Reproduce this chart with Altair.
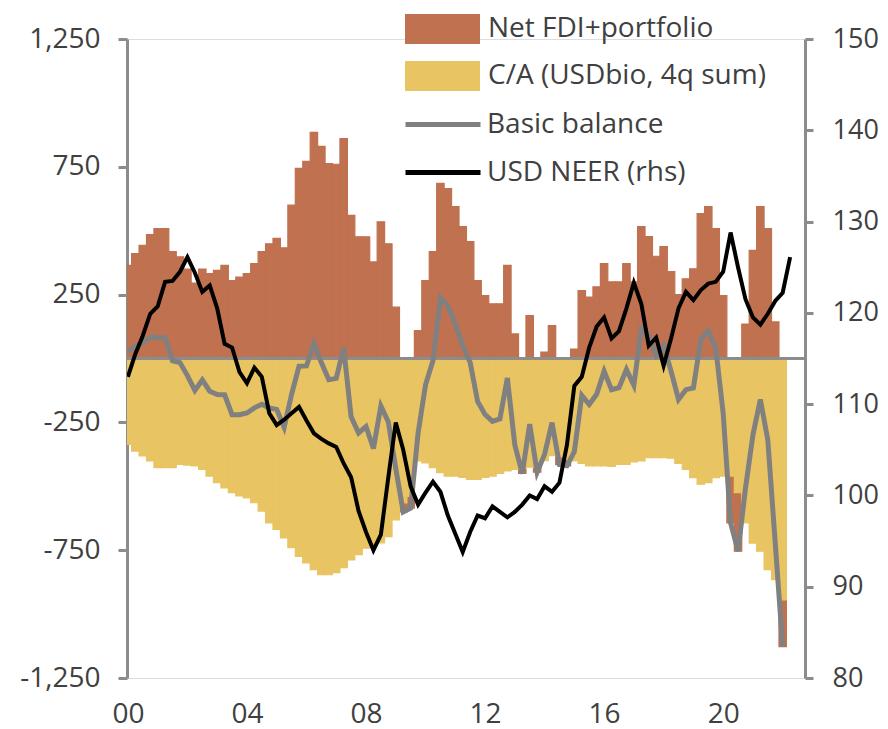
import altair as alt
import pandas as pd

FONT = "Open Sans"
TEXT = "#404040"
AXIS_GREY = "#8c8c8c"

start_year = 2000  # 2000Q1, quarterly

# Net FDI + portfolio flows (USD bn, 4q sum), quarterly from 2000Q1
fdi = [364, 410, 443, 485, 508, 508, 418, 398, 350, 295,
       350, 332, 345, 364, 305, 318, 332, 371, 418, 449,
       470, 433, 600, 744, 771, 885, 830, 763, 760, 860,
       560, 476, 476, 378, 535, 449, 201, -35, -45, 109,
       305, 418, 685, 665, 594, 516, 457, 305, 246, 214,
       214, 364, 96, -20, 168, -20, 25, 129, -30, -25,
       37, 266, 240, 280, 371, 300, 300, 371, 300, 516,
       477, 400, 438, 340, 250, 312, 351, 567, 594, 508,
       246, -183, -229, 135, 423, 594, 508, 143, -183]

# Current account (USD bn, 4q sum)
ca = [-336, -362, -381, -401, -427, -427, -427, -414, -417, -420,
      -434, -460, -486, -506, -525, -538, -545, -564, -597, -643,
      -669, -702, -740, -774, -800, -826, -846, -846, -838, -818,
      -788, -767, -742, -730, -721, -697, -631, -565, -540, -401,
      -408, -427, -447, -460, -460, -465, -473, -473, -465, -460,
      -450, -440, -434, -430, -425, -425, -400, -380, -385, -395,
      -401, -410, -420, -420, -420, -422, -414, -414, -405, -401,
      -388, -388, -388, -390, -410, -434, -466, -492, -486, -466,
      -460, -460, -525, -643, -722, -754, -826, -865, -944]

# Basic balance (USD bn)
basic = [28, 48, 62, 84, 81, 81, -9, -16, -67, -125,
         -84, -128, -141, -142, -220, -220, -213, -193, -179, -194,
         -199, -269, -140, -30, -29, 59, -16, -83, -78, 42,
         -228, -291, -266, -352, -186, -248, -430, -600, -585, -292,
         -103, -9, 238, 205, 134, 51, -16, -168, -219, -246,
         -236, -76, -338, -450, -257, -445, -375, -251, -415, -420,
         -364, -144, -180, -140, -49, -122, -114, -43, -105, 115,
         89, 12, 50, -50, -160, -122, -115, 75, 108, 42,
         -214, -643, -754, -508, -299, -160, -318, -722, -1127]

# USD nominal effective exchange rate (rhs)
neer = [113.0, 115.5, 117.5, 119.9, 120.7, 123.4, 123.5, 124.5, 126.1, 124.4,
        122.3, 123.0, 120.5, 116.6, 116.2, 113.5, 112.3, 114.0, 113.0, 109.0,
        107.7, 108.3, 109.0, 109.7, 108.2, 106.8, 106.2, 105.7, 105.3, 103.5,
        102.0, 98.3, 96.0, 94.0, 95.7, 102.0, 108.0, 105.0, 101.0, 99.0,
        100.3, 101.5, 100.4, 97.8, 95.8, 93.8, 96.0, 97.8, 97.5, 98.8,
        98.2, 97.6, 98.2, 99.0, 100.0, 99.6, 101.0, 100.4, 101.4, 105.5,
        112.0, 113.0, 116.2, 118.5, 119.5, 117.2, 118.0, 120.5, 123.3, 121.0,
        116.4, 117.3, 114.2, 117.2, 120.5, 122.3, 121.4, 122.5, 123.2, 123.4,
        124.5, 128.8, 125.0, 121.5, 119.5, 118.7, 119.9, 121.3, 122.2, 126.1]

bar_series = ["Net FDI+portfolio", "C/A (USDbio, 4q sum)"]
bar_colors = ["#c0714f", "#e8c462"]
line_series = ["Basic balance", "USD NEER (rhs)"]
line_colors = ["#808080", "#000000"]

x_ticks = [2000, 2004, 2008, 2012, 2016, 2020]
left_ticks = [-1250, -750, -250, 250, 750, 1250]
right_ticks = [80, 90, 100, 110, 120, 130, 140, 150]

n = len(fdi)
t = [start_year + i / 4 for i in range(n)]
half = 0.125

bars_df = pd.DataFrame({
    "t0": [v - half for v in t],
    "t1": [v + half for v in t],
    "fdi": fdi,
    "ca": ca,
})
bb_df = pd.DataFrame({"t": t, "value": basic, "series": line_series[0]})
neer_df = pd.DataFrame({"t": [start_year + i / 4 for i in range(len(neer))],
                        "value": neer, "series": line_series[1]})
zero_df = pd.DataFrame({"value": [0]})

x_scale = alt.Scale(domain=[1999.97, 2022.75], nice=False, zero=False)
x_axis = alt.Axis(values=x_ticks, labelExpr="slice('0' + (datum.value % 100), -2)",
                  domain=False, ticks=False, grid=False, labelPadding=22,
                  labelFlush=False, labelOverlap=False,
                  labelFontSize=28, labelFont=FONT, labelColor=TEXT, title=None)

left_scale = alt.Scale(domain=[-1250, 1250], nice=False, zero=False)
left_axis = alt.Axis(values=left_ticks,
                     labelExpr="replace(format(datum.value, ','), '\u2212', '-')",
                     domainColor=AXIS_GREY, domainWidth=3, tickColor=AXIS_GREY,
                     tickWidth=3, tickSize=9, labelPadding=18, grid=False,
                     labelFlush=False, labelOverlap=False,
                     labelFontSize=28, labelFont=FONT, labelColor=TEXT, title=None)

right_scale = alt.Scale(domain=[80, 150], nice=False, zero=False)
right_axis = alt.Axis(orient="right", values=right_ticks,
                      domainColor=AXIS_GREY, domainWidth=3, tickColor=AXIS_GREY,
                      tickWidth=3, tickSize=8, labelPadding=19, grid=False,
                      labelFlush=False, labelOverlap=False,
                      labelFontSize=27, labelFont=FONT, labelColor=TEXT, title=None)

fill_scale = alt.Scale(domain=bar_series, range=bar_colors)
fill_legend = alt.Legend(orient="none", legendX=278, legendY=-25, title=None,
                         symbolType="M-1,-1H4V1H-1Z", symbolSize=900,
                         symbolStrokeWidth=0, labelOffset=53, rowPadding=17,
                         labelLimit=500,
                         labelFontSize=28, labelFont=FONT, labelColor=TEXT)
stroke_scale = alt.Scale(domain=line_series, range=line_colors)
stroke_legend = alt.Legend(orient="none", legendX=276, legendY=68, title=None,
                           symbolType="M-1,0H4", symbolSize=900,
                           symbolStrokeWidth=5, labelOffset=49, rowPadding=16,
                           labelLimit=500,
                           labelFontSize=28, labelFont=FONT, labelColor=TEXT)

base = alt.Chart(bars_df)

ca_bars = base.transform_calculate(
    series=f"'{bar_series[1]}'", zero="0"
).mark_bar(clip=True, stroke=bar_colors[1], strokeWidth=1.2).encode(
    x=alt.X("t0:Q", scale=x_scale, axis=x_axis),
    x2="t1:Q",
    y=alt.Y("ca:Q", scale=left_scale, axis=left_axis),
    y2="zero:Q",
    fill=alt.Fill("series:N", scale=fill_scale, legend=fill_legend),
)

fdi_bars = base.transform_calculate(
    series=f"'{bar_series[0]}'",
    lo="datum.fdi < 0 ? datum.ca : 0",
).transform_calculate(
    hi="datum.lo + datum.fdi",
).mark_bar(clip=True, stroke=bar_colors[0], strokeWidth=1.2).encode(
    x=alt.X("t0:Q", scale=x_scale, axis=x_axis),
    x2="t1:Q",
    y=alt.Y("hi:Q", scale=left_scale, axis=left_axis),
    y2="lo:Q",
    fill=alt.Fill("series:N", scale=fill_scale, legend=fill_legend),
)

zero_rule = alt.Chart(zero_df).mark_rule(color=AXIS_GREY, strokeWidth=3).encode(
    y=alt.Y("value:Q", scale=left_scale, axis=left_axis),
)

bb_line = alt.Chart(bb_df).mark_line(strokeWidth=5, clip=True).encode(
    x=alt.X("t:Q", scale=x_scale, axis=x_axis),
    y=alt.Y("value:Q", scale=left_scale, axis=left_axis),
    stroke=alt.Stroke("series:N", scale=stroke_scale, legend=stroke_legend),
)

neer_line = alt.Chart(neer_df).mark_line(strokeWidth=4, clip=True).encode(
    x=alt.X("t:Q", scale=x_scale, axis=x_axis),
    y=alt.Y("value:Q", scale=right_scale, axis=right_axis),
    stroke=alt.Stroke("series:N", scale=stroke_scale, legend=stroke_legend),
)

left = alt.layer(fdi_bars, ca_bars, zero_rule, bb_line)
chart = alt.layer(left, neer_line).resolve_scale(y="independent").properties(
    width=678, height=639,
    autosize=alt.AutoSizeParams(type="none"),
    padding={"left": 119, "top": 31, "right": 75, "bottom": 52},
).configure_view(stroke=None).configure(background="white")

chart.save("out.html", embed_options={"renderer": "svg", "actions": False})
